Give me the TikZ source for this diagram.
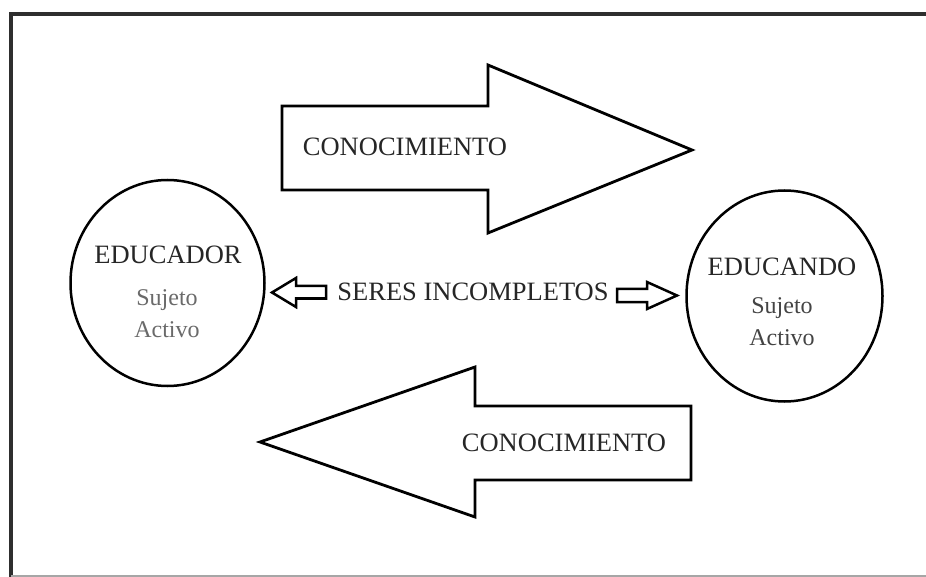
\documentclass[tikz,border=0pt]{standalone}
\usepackage{fontspec}
\setmainfont{Liberation Serif}
\usetikzlibrary{shapes.geometric}
\definecolor{framec}{HTML}{2E2E2E}
\definecolor{subl}{HTML}{6A6A6A}
\definecolor{subr}{HTML}{444444}
\begin{document}
\begin{tikzpicture}[x=1pt,y=-1pt,
  blk/.style={draw=black,line width=2.8pt,line join=miter,fill=white},
  oval/.style={draw=black,line width=2.5pt,ellipse,inner sep=0pt},
  captxt/.style={font=\fontsize{26.5}{30}\selectfont,inner sep=0pt,text=black!85},
  subtxt/.style={font=\fontsize{24}{32}\selectfont,inner sep=0pt,align=center}]
\useasboundingbox (0,0) rectangle (926,577);
\fill[white] (0,0) rectangle (926,577);
% frame
\draw[framec,line width=3.2pt] (11,577) -- (11,14) -- (926,14);
\draw[black!35,line width=2pt] (11,575.5) -- (926,575.5);
% ellipses
\node[oval,minimum width=194pt,minimum height=206pt] (edr) at (167.5,283) {};
\node[oval,minimum width=196pt,minimum height=211pt] (edo) at (784.5,296) {};
\node[captxt] (edrt) at (168,255) {EDUCADOR};
\node[subtxt,text=subl] (edrs) at (167,314) {Sujeto\\Activo};
\node[captxt] (edot) at (782,267) {EDUCANDO};
\node[subtxt,text=subr] (edos) at (782,322) {Sujeto\\Activo};
% top big arrow
\draw[blk] (282,106) -- (488,106) -- (488,65) -- (692,150) -- (488,233) -- (488,190) -- (282,190) -- cycle;
\node[captxt] (k1) at (405,147) {CONOCIMIENTO};
% bottom big arrow
\draw[blk] (691,406) -- (475,406) -- (475,367) -- (260,442) -- (475,517) -- (475,480) -- (691,480) -- cycle;
\node[captxt] (k2) at (564,443) {CONOCIMIENTO};
% middle
\node[captxt] (seres) at (473,292) {SERES INCOMPLETOS};
\draw[blk,line width=2.5pt] (326,286) -- (296,286) -- (296,278) -- (272,292.5) -- (296,307) -- (296,298.5) -- (326,298.5) -- cycle;
\draw[blk,line width=2.5pt] (617,289) -- (647,289) -- (647,282) -- (677,295.5) -- (647,309) -- (647,302) -- (617,302) -- cycle;
\end{tikzpicture}
\end{document}
